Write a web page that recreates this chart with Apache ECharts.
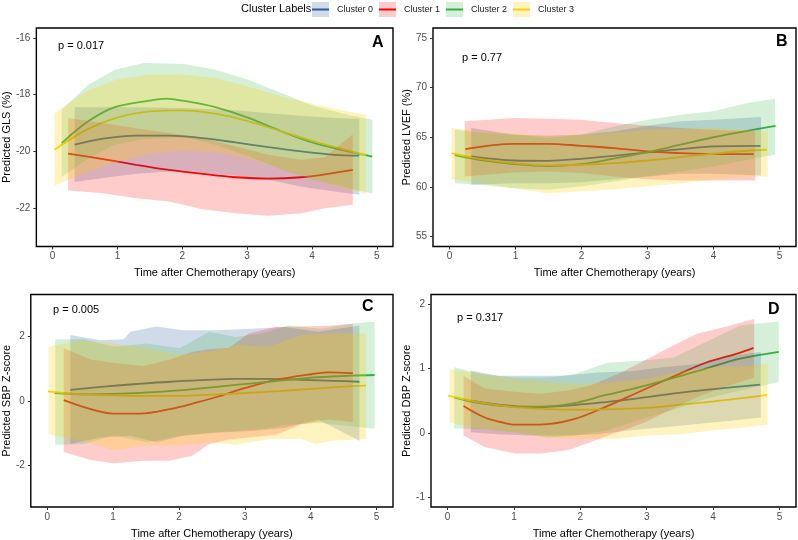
<!DOCTYPE html>
<html>
<head>
<meta charset="utf-8">
<script src="https://cdn.jsdelivr.net/npm/echarts@6/dist/echarts.min.js"></script>
<style>html,body{margin:0;padding:0;background:#fff}#chart{width:798px;height:540px}</style>
</head>
<body>
<div id="chart"></div>
<script>
// ---------- DATA ----------
const clusterNames = ['Cluster 0', 'Cluster 1', 'Cluster 2', 'Cluster 3'];
const xTicks = [0, 1, 2, 3, 4, 5];
const glsTicks = [-22, -20, -18, -16];
const lvefTicks = [55, 60, 65, 70, 75];
const sbpTicks = [-2, 0, 2];
const dbpTicks = [-1, 0, 1, 2];
const pValues = ['p = 0.017', 'p = 0.77', 'p = 0.005', 'p = 0.317'];
const panelLetters = ['A', 'B', 'C', 'D'];

// Panel A: Predicted GLS (%)  lines [time, fit], bands [time, lower, upper]
const glsLine0 = [[0.34,-19.76],[0.78,-19.55],[1.29,-19.44],[1.80,-19.44],[2.31,-19.53],[2.82,-19.68],[3.33,-19.85],[3.84,-20.0],[4.35,-20.12],[4.73,-20.15]];
const glsLine1 = [[0.24,-20.08],[0.78,-20.27],[1.29,-20.47],[1.80,-20.65],[2.31,-20.79],[2.82,-20.91],[3.33,-20.96],[3.84,-20.91],[4.25,-20.79],[4.63,-20.65]];
const glsLine2 = [[0.14,-19.71],[0.55,-18.94],[0.96,-18.44],[1.49,-18.21],[1.75,-18.14],[2.0,-18.21],[2.51,-18.44],[3.02,-18.82],[3.53,-19.29],[4.04,-19.71],[4.55,-20.0],[4.93,-20.18]];
const glsLine3 = [[0.03,-19.94],[0.52,-19.24],[0.98,-18.82],[1.49,-18.59],[2.0,-18.55],[2.51,-18.67],[3.02,-18.94],[3.53,-19.29],[4.04,-19.65],[4.55,-19.96],[4.83,-20.12]];
const glsBand0 = [[0.34,-21.08,-18.44],[0.78,-20.94,-18.44],[1.29,-20.79,-18.44],[1.80,-20.71,-18.46],[2.31,-20.76,-18.5],[2.82,-20.86,-18.55],[3.33,-21.0,-18.65],[3.84,-21.24,-18.74],[4.35,-21.41,-18.82],[4.73,-21.53,-18.86]];
const glsBand1 = [[0.24,-21.38,-18.82],[0.78,-21.47,-19.0],[1.29,-21.65,-19.18],[1.80,-21.76,-19.35],[2.31,-22.04,-19.53],[2.82,-22.18,-19.82],[3.33,-22.27,-20.12],[3.84,-22.18,-20.29],[4.2,-22.0,-20.2],[4.63,-21.88,-19.39]];
const glsBand2 = [[0.14,-20.9,-18.53],[0.55,-20.25,-17.65],[0.96,-19.76,-17.12],[1.41,-19.56,-16.88],[2.03,-19.5,-16.92],[2.51,-19.76,-17.12],[3.02,-20.17,-17.47],[3.53,-20.64,-17.94],[4.04,-21.01,-18.41],[4.55,-21.29,-18.71],[4.93,-21.48,-18.88]];
const glsBand3 = [[0.03,-21.2,-18.65],[0.52,-20.74,-17.88],[0.98,-20.38,-17.47],[1.49,-20.09,-17.29],[2.0,-19.97,-17.29],[2.51,-20.03,-17.41],[3.02,-20.26,-17.71],[3.53,-20.62,-18.06],[4.04,-21.0,-18.35],[4.55,-21.34,-18.59],[4.83,-21.5,-18.71]];

// Panel B: Predicted LVEF (%)
const lvefLine0 = [[0.33,63.07],[0.98,62.66],[1.49,62.63],[1.99,62.83],[2.49,63.13],[3.0,63.47],[3.5,63.81],[4.0,64.08],[4.71,64.14]];
const lvefLine1 = [[0.24,63.81],[0.98,64.34],[1.49,64.34],[1.99,64.14],[2.49,63.91],[3.0,63.57],[3.5,63.40],[4.0,63.30],[4.61,63.30]];
const lvefLine2 = [[0.08,63.2],[0.48,62.7],[0.98,62.3],[1.49,62.1],[1.99,62.3],[2.49,62.85],[3.0,63.5],[3.5,64.25],[4.0,65.0],[4.51,65.65],[4.94,66.15]];
const lvefLine3 = [[0.03,63.40],[0.48,62.8],[0.98,62.39],[1.49,62.16],[1.99,62.23],[2.49,62.39],[3.0,62.66],[3.5,63.0],[4.0,63.34],[4.51,63.64],[4.81,63.74]];
const lvefBand0 = [[0.33,60.21,65.92],[0.98,60.38,65.25],[1.49,60.38,65.15],[1.99,60.48,65.25],[2.49,60.78,65.59],[3.0,61.05,66.16],[3.5,61.32,66.6],[4.0,61.32,66.76],[4.72,61.15,67.03]];
const lvefBand1 = [[0.23,61.05,66.6],[0.98,61.45,66.93],[1.49,61.55,66.87],[1.99,61.39,66.76],[2.49,61.05,66.43],[3.0,60.78,66.16],[3.5,60.65,65.92],[4.0,60.65,65.76],[4.63,60.65,65.59]];
const lvefBand2 = [[0.08,60.38,65.76],[0.48,60.21,65.49],[0.98,59.87,65.25],[1.49,59.71,64.92],[1.99,60.04,65.25],[2.49,60.55,66.09],[3.0,61.05,66.76],[3.5,61.55,67.27],[4.0,62.06,67.61],[4.51,62.73,68.45],[4.93,63.24,68.88]];
const lvefBand3 = [[0.03,60.78,65.92],[0.48,60.38,65.59],[0.98,59.87,65.35],[1.49,59.37,65.15],[1.99,59.54,65.25],[2.49,59.77,65.42],[3.0,60.04,65.76],[3.5,60.38,65.82],[4.0,60.71,65.92],[4.51,61.05,65.76],[4.82,61.05,65.59]];

// Panel C: Predicted SBP Z-score
const sbpLine0 = [[0.35,0.34],[0.86,0.44],[1.36,0.52],[1.86,0.59],[2.36,0.64],[2.86,0.68],[3.36,0.68],[3.86,0.65],[4.36,0.62],[4.74,0.59]];
const sbpLine1 = [[0.25,0.02],[0.66,-0.26],[1.01,-0.40],[1.41,-0.40],[1.86,-0.26],[2.26,-0.06],[2.61,0.14],[3.01,0.40],[3.46,0.64],[3.96,0.81],[4.26,0.88],[4.64,0.86]];
const sbpLine2 = [[0.11,0.24],[0.61,0.2],[1.11,0.22],[1.61,0.27],[2.11,0.34],[2.61,0.44],[3.11,0.54],[3.61,0.64],[4.11,0.73],[4.61,0.78],[4.97,0.8]];
const sbpLine3 = [[0.01,0.29],[0.51,0.2],[1.01,0.17],[1.51,0.15],[2.01,0.15],[2.51,0.19],[3.01,0.24],[3.51,0.3],[4.01,0.37],[4.51,0.44],[4.84,0.47]];
const sbpBand0 = [[0.35,-1.34,2.04],[0.81,-1.14,1.88],[1.16,-1.1,1.91],[1.26,-1.09,2.14],[1.66,-1.29,2.31],[2.06,-1.09,2.19],[2.56,-0.99,2.19],[3.11,-0.94,2.24],[3.61,-0.84,2.29],[4.11,-0.58,2.14],[4.74,-1.24,2.34]];
const sbpBand1 = [[0.25,-1.59,1.63],[0.66,-1.84,1.28],[1.01,-1.94,1.18],[1.46,-1.86,1.08],[1.86,-1.86,1.28],[2.21,-1.7,1.52],[2.46,-1.34,1.6],[2.76,-1.2,1.65],[3.06,-1.14,2.09],[3.46,-1.06,2.29],[3.86,-0.74,2.31],[4.26,-0.58,2.33],[4.64,-0.66,2.39]];
const sbpBand2 = [[0.12,-1.37,1.91],[0.56,-1.34,1.91],[1.01,-1.07,1.68],[1.51,-1.29,1.78],[2.01,-1.09,1.63],[2.46,-0.99,2.14],[2.86,-0.94,1.98],[3.26,-0.87,2.09],[3.66,-0.74,2.34],[4.16,-0.69,2.24],[4.61,-0.79,2.39],[4.97,-0.87,2.46]];
const sbpBand3 = [[0.02,-1.04,1.68],[0.51,-1.24,1.88],[1.01,-1.54,1.78],[1.51,-1.39,1.63],[2.01,-1.39,1.43],[2.46,-1.29,1.53],[2.86,-1.37,1.73],[3.36,-1.19,1.68],[3.86,-1.19,2.04],[4.06,-1.34,2.06],[4.36,-1.24,2.09],[4.84,-1.19,2.09]];

// Panel D: Predicted DBP Z-score
const dbpLine0 = [[0.35,0.5],[0.76,0.44],[1.26,0.40],[1.76,0.42],[2.39,0.48],[2.89,0.54],[3.39,0.61],[3.89,0.67],[4.39,0.72],[4.71,0.75]];
const dbpLine1 = [[0.24,0.42],[0.56,0.24],[0.8,0.17],[1.01,0.13],[1.39,0.13],[1.89,0.21],[2.39,0.41],[2.89,0.64],[3.39,0.87],[3.89,1.09],[4.39,1.24],[4.61,1.32]];
const dbpLine2 = [[0.1,0.55],[0.51,0.46],[1.01,0.41],[1.39,0.41],[1.89,0.46],[2.39,0.59],[2.89,0.71],[3.39,0.85],[3.89,1.0],[4.39,1.15],[4.99,1.26]];
const dbpLine3 = [[0.01,0.58],[0.51,0.47],[1.01,0.40],[1.51,0.37],[2.01,0.36],[2.51,0.37],[3.01,0.39],[3.51,0.44],[4.01,0.49],[4.51,0.55],[4.81,0.59]];
const dbpBand0 = [[0.35,0.01,0.97],[0.76,-0.02,0.89],[1.26,-0.04,0.89],[1.76,-0.04,0.89],[2.26,-0.02,0.94],[2.76,0.04,0.96],[3.26,0.09,1.02],[3.76,0.14,1.07],[4.26,0.19,1.19],[4.72,0.24,1.26]];
const dbpBand1 = [[0.24,-0.04,0.89],[0.56,-0.22,0.69],[1.01,-0.32,0.64],[1.41,-0.32,0.61],[1.81,-0.27,0.66],[2.16,-0.14,0.74],[2.56,0.01,0.91],[2.96,0.16,1.12],[3.36,0.36,1.34],[3.76,0.56,1.54],[4.16,0.71,1.64],[4.62,0.86,1.77]];
const dbpBand2 = [[0.1,0.07,1.02],[0.51,0.06,0.91],[1.01,0.01,0.86],[1.51,-0.07,0.86],[1.91,-0.04,0.91],[2.41,0.04,1.09],[2.91,0.21,1.12],[3.41,0.36,1.17],[3.91,0.54,1.42],[4.41,0.66,1.67],[4.99,0.79,1.73]];
const dbpBand3 = [[0.03,0.16,0.99],[0.51,0.06,0.91],[1.01,0.01,0.84],[1.51,-0.07,0.79],[2.01,-0.09,0.76],[2.51,-0.09,0.79],[3.01,-0.04,0.84],[3.51,-0.02,0.96],[4.01,0.04,1.02],[4.51,0.09,1.04],[4.82,0.13,1.08]];

// ---------- STYLE ----------
const FONT = 'Liberation Sans, Arial, Helvetica, sans-serif';
const lineColors = ['#2A5AA0', '#FF0000', '#33B040', '#FFD000'];
const fillColors = ['rgba(42,90,160,0.22)', 'rgba(255,0,0,0.2)', 'rgba(51,176,64,0.2)', 'rgba(255,208,0,0.25)'];

const panels = [
  {lines:[glsLine0,glsLine1,glsLine2,glsLine3], bands:[glsBand0,glsBand1,glsBand2,glsBand3], ticks:glsTicks, min:-23.35, max:-15.65, title:'Predicted GLS (%)', grid:{left:33, top:28, width:360, height:218.5}, gap:23},
  {lines:[lvefLine0,lvefLine1,lvefLine2,lvefLine3], bands:[lvefBand0,lvefBand1,lvefBand2,lvefBand3], ticks:lvefTicks, min:54, max:76, title:'Predicted LVEF (%)', grid:{left:433, top:28, width:363, height:218.5}, gap:20},
  {lines:[sbpLine0,sbpLine1,sbpLine2,sbpLine3], bands:[sbpBand0,sbpBand1,sbpBand2,sbpBand3], ticks:sbpTicks, min:-3.3, max:3.3, title:'Predicted SBP Z-score', grid:{left:26, top:294.5, width:367, height:217}, gap:18},
  {lines:[dbpLine0,dbpLine1,dbpLine2,dbpLine3], bands:[dbpBand0,dbpBand1,dbpBand2,dbpBand3], ticks:dbpTicks, min:-1.15, max:2.15, title:'Predicted DBP Z-score', grid:{left:431, top:294.5, width:365, height:217}, gap:18}
];

const grids = [], xAxes = [], yAxes = [], series = [];
panels.forEach((p, i) => {
  grids.push(Object.assign({show:true, borderColor:'#000', borderWidth:1.4, backgroundColor:'#fff'}, p.grid));
  xAxes.push({
    type:'value', gridIndex:i, min:-0.25, max:5.25, position:'bottom',
    axisLine:{show:false, onZero:false}, splitLine:{show:false},
    axisTick:{show:true, customValues:xTicks, length:3, lineStyle:{color:'#333', width:1}},
    axisLabel:{customValues:xTicks, color:'#4d4d4d', fontSize:10, fontFamily:FONT, margin:5},
    name:'Time after Chemotherapy (years)', nameLocation:'middle', nameGap:21,
    nameTextStyle:{color:'#000', fontSize:11, fontFamily:FONT}
  });
  yAxes.push({
    type:'value', gridIndex:i, min:p.min, max:p.max, position:'left',
    axisLine:{show:false, onZero:false}, splitLine:{show:false},
    axisTick:{show:true, customValues:p.ticks, length:3, lineStyle:{color:'#333', width:1}},
    axisLabel:{customValues:p.ticks, color:'#4d4d4d', fontSize:10, fontFamily:FONT, margin:6},
    name:p.title, nameLocation:'middle', nameGap:p.gap,
    nameTextStyle:{color:'#000', fontSize:11, fontFamily:FONT}
  });
  p.lines.forEach((ln, k) => {
    series.push({
      type:'line', name:clusterNames[k], xAxisIndex:i, yAxisIndex:i, data:ln,
      smooth:0.35, showSymbol:false, z:2, silent:true,
      lineStyle:{color:lineColors[k], width:1.8}, itemStyle:{color:lineColors[k]}
    });
  });
  p.bands.forEach((bd, k) => {
    series.push({
      type:'custom', name:clusterNames[k], xAxisIndex:i, yAxisIndex:i, data:bd,
      encode:{x:0, y:[1,2]}, z:3, silent:true,
      itemStyle:{color:fillColors[k]},
      renderItem:(params, api) => {
        if (params.dataIndex !== 0) return null;
        const up = bd.map(d => api.coord([d[0], d[2]]));
        const lo = bd.map(d => api.coord([d[0], d[1]])).reverse();
        return {type:'polygon', shape:{points:up.concat(lo)}, style:{fill:fillColors[k], stroke:null}};
      }
    });
  });
});

const titles = [
  {text:'Cluster Labels', left:241, top:3, textStyle:{fontSize:11, fontWeight:'normal', color:'#000', fontFamily:FONT}},
  {text:pValues[0], left:58, top:40, textStyle:{fontSize:11, fontWeight:'normal', color:'#000', fontFamily:FONT}},
  {text:pValues[1], left:462, top:52, textStyle:{fontSize:11, fontWeight:'normal', color:'#000', fontFamily:FONT}},
  {text:pValues[2], left:53, top:304, textStyle:{fontSize:11, fontWeight:'normal', color:'#000', fontFamily:FONT}},
  {text:pValues[3], left:457, top:312, textStyle:{fontSize:11, fontWeight:'normal', color:'#000', fontFamily:FONT}},
  {text:panelLetters[0], left:372, top:35, textStyle:{fontSize:16, fontWeight:'bold', color:'#000', fontFamily:FONT}},
  {text:panelLetters[1], left:776, top:34, textStyle:{fontSize:16, fontWeight:'bold', color:'#000', fontFamily:FONT}},
  {text:panelLetters[2], left:362, top:299, textStyle:{fontSize:16, fontWeight:'bold', color:'#000', fontFamily:FONT}},
  {text:panelLetters[3], left:768, top:302, textStyle:{fontSize:16, fontWeight:'bold', color:'#000', fontFamily:FONT}}
].map(t => Object.assign({padding:0}, t));

const legendBase = {orient:'horizontal', left:312, top:2, itemWidth:17, itemGap:6, selectedMode:false, padding:0};
const legends = [
  Object.assign({}, legendBase, {
    icon:'rect', itemHeight:15,
    data:clusterNames.map((n, k) => ({name:n, itemStyle:{color:fillColors[k]}})),
    textStyle:{fontSize:9, color:'#1a1a1a', fontFamily:FONT, lineHeight:15, padding:[0,0,0,3]}
  }),
  Object.assign({}, legendBase, {
    icon:'rect', itemHeight:2,
    data:clusterNames.map((n, k) => ({name:n, itemStyle:{color:lineColors[k]}})),
    textStyle:{fontSize:9, color:'rgba(0,0,0,0)', fontFamily:FONT, lineHeight:15, padding:[0,0,0,3]}
  })
];

const chart = echarts.init(document.getElementById('chart'), null, {renderer:'canvas'});
chart.setOption({
  animation:false,
  backgroundColor:'#fff',
  title:titles,
  legend:legends,
  grid:grids,
  xAxis:xAxes,
  yAxis:yAxes,
  series:series
});
</script>
</body>
</html>
